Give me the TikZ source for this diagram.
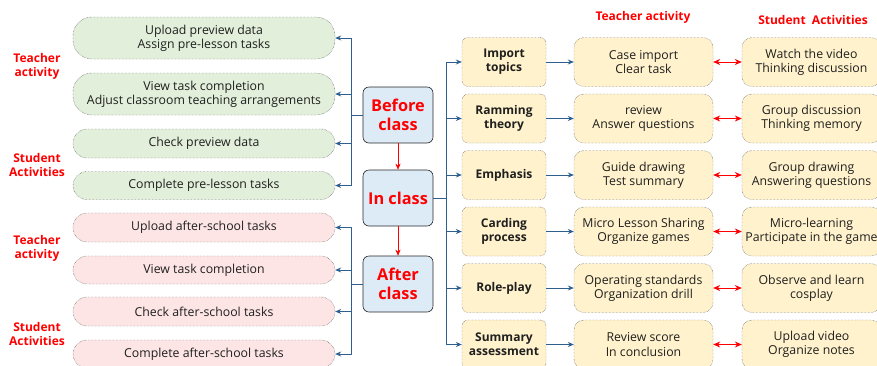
\documentclass[tikz,border=0pt]{standalone}
\usepackage{fontspec}
\setmainfont{Open Sans}
\usetikzlibrary{arrows.meta}
\definecolor{txt}{HTML}{1F1F1F}
\definecolor{linkblue}{HTML}{2F5F8F}
\definecolor{trunkblue}{HTML}{6F93BA}
\definecolor{prefill}{HTML}{E2EFDA}
\definecolor{postfill}{HTML}{FDE5E5}
\definecolor{stagefill}{HTML}{DDEBF7}
\definecolor{rowfill}{HTML}{FFF2CC}
\definecolor{hotred}{HTML}{FF0000}
\begin{document}
\begin{tikzpicture}[x=1pt, y=-1pt, line join=round, font=\fontsize{12.3}{14.3}\selectfont\color{txt},
	task/.style={draw=black!80, densely dotted, minimum width=262pt, align=center, inner sep=0pt},
	stage/.style={draw=black!85, semithick, fill=stagefill, rounded corners=6pt, minimum width=70pt, minimum height=56pt, align=center, inner sep=0pt, font=\fontsize{16.3}{19}\selectfont\bfseries\color{hotred}},
	topic/.style={draw=black!80, densely dotted, fill=rowfill, rounded corners=6pt, minimum width=84pt, minimum height=49pt, align=center, inner sep=0pt, font=\fontsize{12}{14.3}\selectfont\bfseries\color{txt}},
	act/.style={draw=black!80, densely dotted, fill=rowfill, rounded corners=10pt, minimum width=139pt, minimum height=49pt, align=center, inner sep=0pt},
	tag/.style={align=center, font=\fontsize{12}{14}\selectfont\bfseries\color{hotred}},
	link/.style={draw=linkblue, thick, -{Stealth[length=6pt, width=5pt]}},
	swap/.style={draw=hotred, thick, {Stealth[length=7pt, width=6pt]}-{Stealth[length=7pt, width=6pt]}},
	down/.style={draw=hotred, -{Stealth[length=6pt, width=5pt]}}]
\useasboundingbox (0,0) rectangle (877,365);

% stages
\node[stage] (before) at (398,115) {Before\\class};
\node[stage] (inclass) at (398,198) {In class};
\node[stage] (after) at (398,284) {After\\class};
\draw[down] (before) -- (inclass);
\draw[down] (inclass) -- (after);

% before and after class tasks
\foreach \n/\y/\h/\r/\c/\t in {p1/38/42/19/prefill/{Upload preview data\\Assign pre-lesson tasks},
		p2/94/42/19/prefill/{View task completion\\Adjust classroom teaching arrangements},
		p3/143.5/29/14/prefill/{Check preview data},
		p4/185.5/28/14/prefill/{Complete pre-lesson tasks},
		a1/227.5/29/14/postfill/{Upload after-school tasks},
		a2/270/28/14/postfill/{View task completion},
		a3/311.5/29/14/postfill/{Check after-school tasks},
		a4/354/28/14/postfill/{Complete after-school tasks}}{
	\node[task, fill=\c, minimum height=\h pt, rounded corners=\r pt] (\n) at (204,\y) {\t};}

\coordinate (bl) at (351,115);
\coordinate (al) at (351,284);
\draw[trunkblue, thick] (p1.east -| bl) -- (p4.east -| bl) (a1.east -| al) -- (a4.east -| al);
\draw[linkblue, thick] (before.west) -- (bl) (after.west) -- (al);
\foreach \n in {p1,p2,p3,p4}{\draw[link] (bl) |- (\n.east);}
\foreach \n in {a1,a2,a3,a4}{\draw[link] (al) |- (\n.east);}

% side labels
\foreach \n/\y/\t in {l1/66/{Teacher\\activity}, l2/165/{Student\\Activities},
		l3/248/{Teacher\\activity}, l4/334/{Student\\Activities}}{
	\node[tag] (\n) at (37,\y) {\t};}
\node[tag] (hteach) at (643,17) {Teacher activity};
\node[tag] (hstud) at (813,20) {Student\ \ Activities};

% in class rows
\coordinate (ir) at (446,198);
\draw[trunkblue, thick] (446,62) -- (446,344.5);
\draw[linkblue, thick] (inclass.east) -- (ir);
\foreach \i/\a/\b/\c in {1/{Import\\topics}/{Case import\\Clear task}/{Watch the video\\Thinking discussion},
		2/{Ramming\\theory}/{review\\Answer questions}/{Group discussion\\Thinking memory},
		3/{Emphasis}/{Guide drawing\\Test summary}/{Group drawing\\Answering questions},
		4/{Carding\\process}/{Micro Lesson Sharing\\Organize games}/{Micro-learning\\Participate in the game},
		5/{Role-play}/{Operating standards\\Organization drill}/{Observe and learn\\cosplay},
		6/{Summary\\assessment}/{Review score\\In conclusion}/{Upload video\\Organize notes}}{
	\node[topic] (t\i) at (504,{62+56.5*(\i-1)}) {\a};
	\node[act] (s\i) at (643.5,{62+56.5*(\i-1)}) {\b};
	\node[act] (r\i) at (811.5,{62+56.5*(\i-1)}) {\c};
	\draw[link] (ir) |- (t\i.west);
	\draw[link] (t\i) -- (s\i);
	\draw[swap] (s\i) -- (r\i);}
\end{tikzpicture}
\end{document}
